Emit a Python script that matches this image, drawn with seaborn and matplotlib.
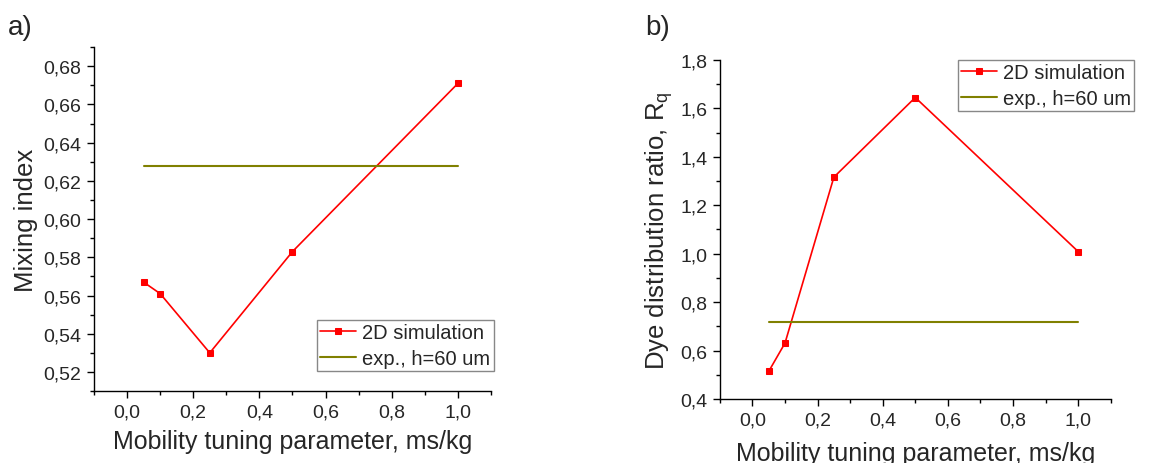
import matplotlib
matplotlib.use("Agg")
import matplotlib.pyplot as plt
import seaborn as sns
from matplotlib.ticker import FuncFormatter, MultipleLocator

# data
mobility = [0.05, 0.1, 0.25, 0.5, 1.0]
mixing_sim = [0.567, 0.561, 0.530, 0.583, 0.671]
mixing_exp = 0.628
ratio_sim = [0.514, 0.631, 1.316, 1.645, 1.009]
ratio_exp = 0.719
exp_range = [0.05, 1.0]

sns.set_theme(style="ticks")
plt.rcParams["font.family"] = ["Liberation Sans", "DejaVu Sans"]
plt.rcParams["mathtext.fontset"] = "custom"
plt.rcParams["mathtext.rm"] = "Liberation Sans"
plt.rcParams["mathtext.it"] = "Liberation Sans"

RED = "#ff0000"
OLIVE = "#808000"

fig = plt.figure(figsize=(11.63, 4.64), dpi=100)
ax_a = fig.add_axes([0.0808, 0.155, 0.3414, 0.7414])
ax_b = fig.add_axes([0.619, 0.138, 0.336, 0.7306])


def fmt(dec):
    return FuncFormatter(lambda v, p: f"{v:.{dec}f}".replace(".", ","))


def style_axes(ax, ylim, ymaj, ymin, ydec, ylabel, xpad):
    ax.set_xlim(-0.1, 1.1)
    ax.set_ylim(*ylim)
    ax.xaxis.set_major_locator(MultipleLocator(0.2))
    ax.xaxis.set_minor_locator(MultipleLocator(0.1))
    ax.yaxis.set_major_locator(MultipleLocator(ymaj))
    ax.yaxis.set_minor_locator(MultipleLocator(ymin))
    ax.xaxis.set_major_formatter(fmt(1))
    ax.yaxis.set_major_formatter(fmt(ydec))
    for s in ["top", "right"]:
        ax.spines[s].set_visible(False)
    for s in ["left", "bottom"]:
        ax.spines[s].set_color("black")
        ax.spines[s].set_linewidth(1.0)
    ax.tick_params(which="major", direction="out", length=5, width=1, color="black",
                   labelsize=14, pad=4)
    ax.tick_params(which="minor", direction="out", length=3, width=1, color="black")
    ax.set_xlabel("Mobility tuning parameter, ms/kg", fontsize=18, labelpad=xpad)
    ax.set_ylabel(ylabel, fontsize=18.5, labelpad=4)


def draw(ax, ysim, yexp):
    sns.lineplot(x=mobility, y=ysim, ax=ax, color=RED, marker="s", markersize=5,
                 markeredgecolor=RED, linewidth=1.2, label="2D simulation")
    sns.lineplot(x=exp_range, y=[yexp, yexp], ax=ax, color=OLIVE, linewidth=1.5,
                 label="exp., h=60 um")


def add_legend(ax, loc, anchor):
    leg = ax.legend(loc=loc, bbox_to_anchor=anchor, fontsize=14.5,
                    fancybox=False, edgecolor="#888888", framealpha=1,
                    borderaxespad=0, borderpad=0.15, handlelength=1.8,
                    handletextpad=0.3, labelspacing=0.35)
    leg.get_frame().set_linewidth(1.0)


draw(ax_a, mixing_sim, mixing_exp)
style_axes(ax_a, (0.51, 0.69), 0.02, 0.01, 2, "Mixing index", 6)
add_legend(ax_a, "lower left", (0.562, 0.058))

draw(ax_b, ratio_sim, ratio_exp)
style_axes(ax_b, (0.4, 1.8), 0.2, 0.1, 1, "Dye distribution ratio, R$_\\mathrm{q}$", 9)
add_legend(ax_b, "upper left", (0.609, 1.0))

fig.text(0.007, 0.94, "a)", fontsize=20, ha="left", va="center")
fig.text(0.555, 0.94, "b)", fontsize=20, ha="left", va="center")

fig.savefig("out.png", dpi=100, facecolor="white")
